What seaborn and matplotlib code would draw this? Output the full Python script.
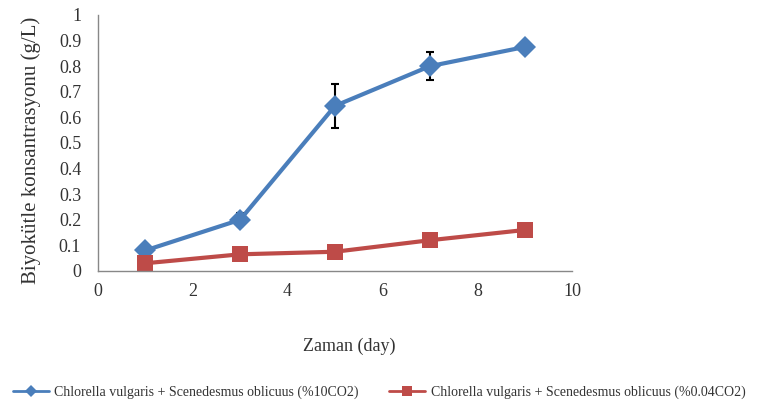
import numpy as np
import pandas as pd
import matplotlib
matplotlib.use('Agg')
import matplotlib.pyplot as plt
from matplotlib.lines import Line2D
import seaborn as sns

# veriler
gun = [1, 3, 5, 7, 9]
co2_10 = [0.08, 0.20, 0.645, 0.80, 0.875]
co2_10_err = [0.0, 0.025, 0.085, 0.055, 0.0]
co2_004 = [0.03, 0.065, 0.075, 0.12, 0.16]

seri_10 = 'Chlorella vulgaris + Scenedesmus oblicuus (%10CO2)'
seri_004 = 'Chlorella vulgaris + Scenedesmus oblicuus (%0.04CO2)'

df = pd.DataFrame({
    'gun': gun * 2,
    'deger': co2_10 + co2_004,
    'seri': [seri_10] * len(gun) + [seri_004] * len(gun),
})

sns.set_style('white')
plt.rcParams['font.family'] = ['Liberation Serif', 'DejaVu Serif']

fig = plt.figure(figsize=(7.64, 4.05), dpi=100)
ax = fig.add_axes([0.128, 0.331, 0.621, 0.632])

mavi = '#4a7ebb'
kirmizi = '#be4b48'

ax.errorbar(gun, co2_10, yerr=co2_10_err, fmt='none', ecolor='black',
            elinewidth=1.5, capsize=3, capthick=1.5, zorder=1)
sns.lineplot(data=df, x='gun', y='deger', hue='seri', style='seri',
             palette={seri_10: mavi, seri_004: kirmizi},
             markers={seri_10: 'D', seri_004: 's'}, dashes=False,
             markersize=11, markeredgewidth=0, linewidth=3, ax=ax, zorder=2,
             legend=False)

ax.set_xlim(0, 10)
ax.set_ylim(0, 1)
ax.set_xticks(np.arange(0, 11, 2))
ax.set_yticks(np.arange(0, 1.01, 0.1))
ax.set_yticklabels(['0'] + [f'{v:.1f}' for v in np.arange(0.1, 0.95, 0.1)] + ['1'])
ax.tick_params(axis='both', direction='out', length=4, color='#888888',
               labelsize=13, labelcolor='#333333', width=1)
ax.tick_params(axis='y', pad=8)
ax.tick_params(axis='x', pad=5)
for s in ['top', 'right']:
    ax.spines[s].set_visible(False)
for s in ['left', 'bottom']:
    ax.spines[s].set_color('#888888')
    ax.spines[s].set_linewidth(1)

ax.set_xlabel('Zaman (day)', fontsize=13, color='#333333')
ax.xaxis.set_label_coords(0.53, -0.26)
ax.set_ylabel('Biyokütle konsantrasyonu (g/L)', fontsize=15, color='#333333')
ax.yaxis.set_label_coords(-0.12, 0.47)

# alt kisimdaki lejant
h_mavi = Line2D([], [], color=mavi, lw=2, marker='D', markersize=6, markeredgewidth=0)
h_kirmizi = Line2D([], [], color=kirmizi, lw=2, marker='s', markersize=7, markeredgewidth=0)
fig.legend([h_mavi, h_kirmizi], [seri_10, seri_004], loc='center left',
           bbox_to_anchor=(0.0, 0.032), ncol=2, frameon=False, fontsize=10,
           columnspacing=2.2, handlelength=2.6, handletextpad=0.4,
           labelcolor='#333333')

plt.savefig('out.png', dpi=100)
plt.close()
